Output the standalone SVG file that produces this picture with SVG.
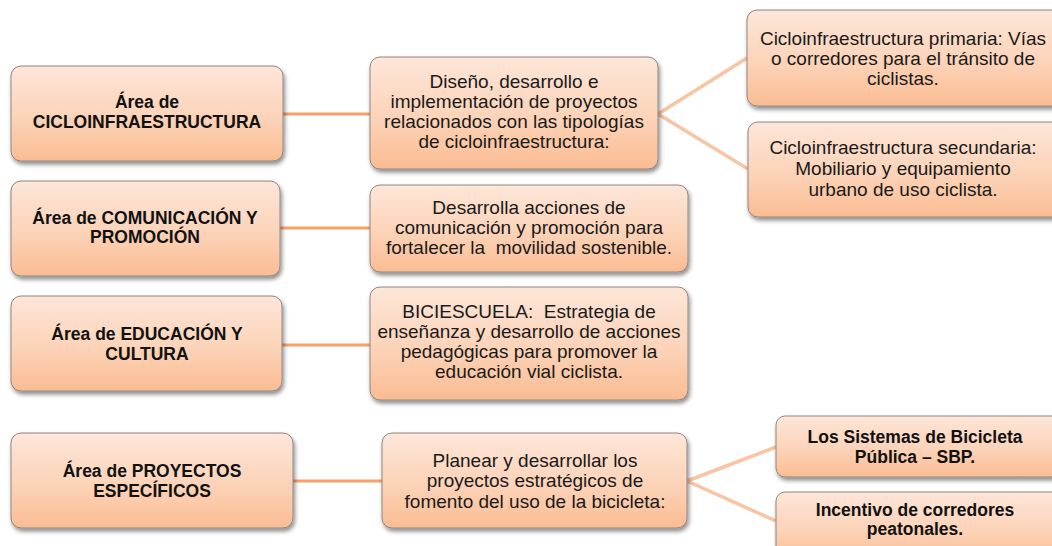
<svg xmlns="http://www.w3.org/2000/svg" width="1052" height="546" viewBox="0 0 1052 546">
<defs>
<linearGradient id="g" x1="0" y1="0" x2="0" y2="1">
<stop offset="0" stop-color="#FDE6D9"/>
<stop offset="0.55" stop-color="#FCD3B8"/>
<stop offset="1" stop-color="#FABC92"/>
</linearGradient>
<filter id="sh" x="-10%" y="-10%" width="125%" height="135%">
<feDropShadow dx="1.5" dy="3" stdDeviation="2.2" flood-color="#000" flood-opacity="0.45"/>
</filter>
<style>
.box{fill:url(#g);stroke:#8f8680;stroke-width:1;filter:url(#sh);}
.t{font-family:"Liberation Sans",Arial,sans-serif;font-size:19px;fill:#1a1a1a;text-anchor:middle;}
.b{font-family:"Liberation Sans",Arial,sans-serif;font-size:17.5px;font-weight:bold;fill:#111;text-anchor:middle;}
.c1{stroke:#F8A068;stroke-width:3;fill:none;}
.c2{stroke:#F8C4A3;stroke-width:3.5;fill:none;}
</style>
</defs>
<rect width="1052" height="546" fill="#fff"/>
<g id="connectors">
<line class="c1" x1="283" y1="114" x2="370" y2="114"/>
<line class="c1" x1="280" y1="228" x2="370" y2="228"/>
<line class="c1" x1="282" y1="345" x2="370" y2="345"/>
<line class="c1" x1="293" y1="481" x2="382" y2="481"/>
<polyline class="c2" points="747,58 658,114 748,169"/>
<polyline class="c2" points="776,447 687,481 776,521"/>
</g>
<g id="n-ciclo">
<rect class="box" x="11" y="66" width="272" height="95" rx="10"/>
<text class="b" x="147" y="108">Área de</text>
<text class="b" x="147" y="128">CICLOINFRAESTRUCTURA</text>
</g>
<g id="n-com">
<rect class="box" x="11" y="181" width="269" height="95" rx="10"/>
<text class="b" x="145" y="224">Área de COMUNICACIÓN Y</text>
<text class="b" x="145" y="243">PROMOCIÓN</text>
</g>
<g id="n-edu">
<rect class="box" x="11" y="296" width="271" height="95" rx="10"/>
<text class="b" x="147" y="340">Área de EDUCACIÓN Y</text>
<text class="b" x="147" y="360">CULTURA</text>
</g>
<g id="n-proy">
<rect class="box" x="11" y="433" width="282" height="95" rx="10"/>
<text class="b" x="152" y="477">Área de PROYECTOS</text>
<text class="b" x="152" y="497">ESPECÍFICOS</text>
</g>
<g id="m-ciclo">
<rect class="box" x="370" y="57" width="288" height="112" rx="10"/>
<text class="t" x="514" y="88">Diseño, desarrollo e</text>
<text class="t" x="514" y="108">implementación de proyectos</text>
<text class="t" x="514" y="128">relacionados con las tipologías</text>
<text class="t" x="514" y="148">de cicloinfraestructura:</text>
</g>
<g id="m-com">
<rect class="box" x="370" y="185" width="318" height="87" rx="10"/>
<text class="t" x="529" y="214">Desarrolla acciones de</text>
<text class="t" x="529" y="234">comunicación y promoción para</text>
<text class="t" x="529" y="254" xml:space="preserve">fortalecer la  movilidad sostenible.</text>
</g>
<g id="m-edu">
<rect class="box" x="370" y="287" width="318" height="113" rx="10"/>
<text class="t" x="529" y="318" xml:space="preserve">BICIESCUELA:  Estrategia de</text>
<text class="t" x="529" y="338">enseñanza y desarrollo de acciones</text>
<text class="t" x="529" y="358">pedagógicas para promover la</text>
<text class="t" x="529" y="378">educación vial ciclista.</text>
</g>
<g id="m-proy">
<rect class="box" x="382" y="433" width="305" height="95" rx="10"/>
<text class="t" x="535" y="467">Planear y desarrollar los</text>
<text class="t" x="535" y="487">proyectos estratégicos de</text>
<text class="t" x="535" y="508">fomento del uso de la bicicleta:</text>
</g>
<g id="r-prim">
<rect class="box" x="747" y="10" width="318" height="96" rx="10"/>
<text class="t" x="903" y="45">Cicloinfraestructura primaria: Vías</text>
<text class="t" x="903" y="65">o corredores para el tránsito de</text>
<text class="t" x="903" y="85">ciclistas.</text>
</g>
<g id="r-sec">
<rect class="box" x="748" y="122" width="318" height="95" rx="10"/>
<text class="t" x="903" y="154">Cicloinfraestructura secundaria:</text>
<text class="t" x="903" y="175">Mobiliario y equipamiento</text>
<text class="t" x="903" y="196">urbano de uso ciclista.</text>
</g>
<g id="r-sbp">
<rect class="box" x="776" y="416" width="290" height="61" rx="9"/>
<text class="b" x="915" y="443">Los Sistemas de Bicicleta</text>
<text class="b" x="915" y="463">Pública – SBP.</text>
</g>
<g id="r-peat">
<rect class="box" x="776" y="492" width="290" height="70" rx="9"/>
<text class="b" x="915" y="516">Incentivo de corredores</text>
<text class="b" x="915" y="535">peatonales.</text>
</g>
</svg>
